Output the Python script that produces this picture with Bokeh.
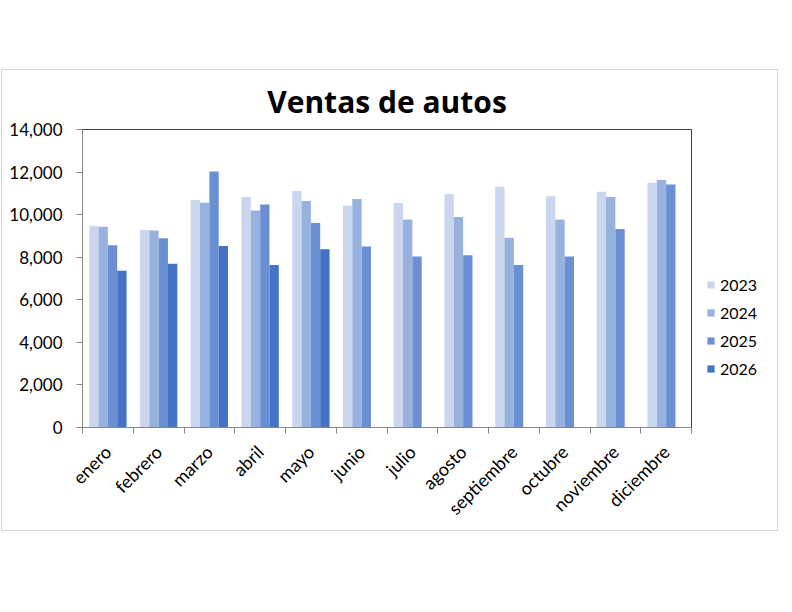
import math
from bokeh.plotting import figure
from bokeh.models import (ColumnDataSource, FixedTicker, NumeralTickFormatter,
                          Legend, LegendItem, Range1d, Spacer)
from bokeh.layouts import column, row
from bokeh.transform import dodge
from bokeh.embed import file_html
from bokeh.resources import INLINE

# ---- data -------------------------------------------------------------
meses = ["enero", "febrero", "marzo", "abril", "mayo", "junio", "julio",
         "agosto", "septiembre", "octubre", "noviembre", "diciembre"]
anios = ["2023", "2024", "2025", "2026"]
ventas_2023 = [9480, 9280, 10690, 10830, 11110, 10420, 10550, 10970, 11310, 10860, 11080, 11500]
ventas_2024 = [9430, 9250, 10560, 10190, 10640, 10740, 9770, 9890, 8910, 9770, 10830, 11630]
ventas_2025 = [8560, 8890, 12030, 10480, 9610, 8500, 8030, 8090, 7640, 8030, 9330, 11420]
ventas_2026 = [7360, 7690, 8530, 7630, 8380]
y_ticks = [0, 2000, 4000, 6000, 8000, 10000, 12000, 14000]
titulo = "Ventas de autos"

colores = ["#c9d6ee", "#97b2df", "#6b8fd3", "#4472c4"]
offsets = [-0.276, -0.092, 0.092, 0.276]
FONT = "Lato"
H = 460

series = [ventas_2023, ventas_2024, ventas_2025, ventas_2026]
fuentes = [ColumnDataSource(dict(x=[i + 0.5 for i in range(len(vals))], top=vals))
           for vals in series]

# ---- main chart --------------------------------------------------------
p = figure(width=698, height=H, output_backend="svg", toolbar_location=None,
           x_range=Range1d(0, len(meses)), y_range=Range1d(0, 14000),
           min_border_left=80, min_border_right=9, min_border_top=56,
           min_border_bottom=103)

p.title.text = titulo
p.title.align = "center"
p.title.text_font = "Open Sans"
p.title.text_font_size = "30px"
p.title.text_font_style = "bold"
p.title.text_color = "#000000"
p.title.standoff = 16

for src, col, off in zip(fuentes, colores, offsets):
    p.vbar(x=dodge("x", off, range=p.x_range), top="top", width=0.184,
           bottom=0, source=src, fill_color=col, line_color=None)

p.xgrid.visible = False
p.ygrid.visible = False
p.outline_line_color = "#404040"
p.outline_line_width = 1

# y axis
p.yaxis.ticker = FixedTicker(ticks=y_ticks)
p.yaxis.formatter = NumeralTickFormatter(format="0,0")
p.yaxis.axis_line_color = "#868686"
p.yaxis.major_tick_line_color = "#868686"
p.yaxis.major_tick_out = 6
p.yaxis.major_tick_in = 0
p.yaxis.minor_tick_line_color = None
p.yaxis.major_label_standoff = 14
p.yaxis.major_label_text_font = FONT
p.yaxis.major_label_text_font_size = "17px"
p.yaxis.major_label_text_color = "#000000"

# x axis: labels at category centres, ticks at category boundaries
centros = [i + 0.5 for i in range(len(meses))]
bordes = list(range(len(meses) + 1))
p.xaxis.ticker = FixedTicker(ticks=centros, minor_ticks=bordes)
p.xaxis.major_label_overrides = {c: m for c, m in zip(centros, meses)}
p.xaxis.axis_line_color = "#868686"
p.xaxis.major_tick_line_color = None
p.xaxis.major_tick_out = 0
p.xaxis.major_tick_in = 0
p.xaxis.minor_tick_line_color = "#868686"
p.xaxis.minor_tick_out = 6
p.xaxis.minor_tick_in = 0
p.xaxis.major_label_orientation = math.pi / 4
p.xaxis.major_label_standoff = 15
p.xaxis.major_label_text_font = FONT
p.xaxis.major_label_text_font_size = "18px"
p.xaxis.major_label_text_color = "#000000"

# ---- legend panel (separate canvas to the right of the plot area) ------
q = figure(width=77, height=H, output_backend="svg", toolbar_location=None,
           x_range=Range1d(0, 1), y_range=Range1d(0, 1),
           x_axis_location=None, y_axis_location=None,
           min_border_left=0, min_border_right=0, min_border_top=0,
           min_border_bottom=0, outline_line_color=None)
q.xgrid.visible = False
q.ygrid.visible = False
items = []
for anio, src, col in zip(anios, fuentes, colores):
    r = q.vbar(x="x", top="top", width=0.1, source=src, fill_color=col,
               line_color=None, visible=False)
    items.append(LegendItem(label=anio, renderers=[r]))
legend = Legend(items=items, location=(6, 49), orientation="vertical",
                label_text_font=FONT, label_text_font_size="16px",
                label_text_color="#000000", label_height=20, glyph_height=9,
                glyph_width=9, spacing=8, padding=0, margin=0,
                label_standoff=5, border_line_color=None,
                background_fill_alpha=0, inactive_fill_alpha=0)
q.add_layout(legend, "center")

chart = row(p, q, styles={"border": "1px solid #d4d4d4"})
layout = column(Spacer(width=790, height=69), row(Spacer(width=1, height=10), chart))
open("out.html", "w").write(file_html(layout, INLINE))
